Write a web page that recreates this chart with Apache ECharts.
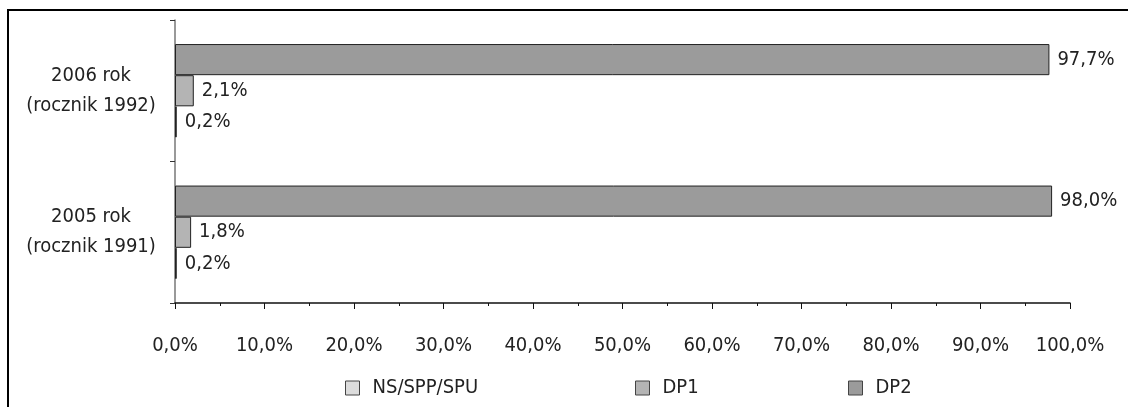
<!DOCTYPE html>
<html>
<head>
<meta charset="utf-8">
<script src="https://cdn.jsdelivr.net/npm/echarts@6/dist/echarts.min.js"></script>
<style>
html,body{margin:0;padding:0;background:#fff;}
#c{width:1128px;height:407px;}
</style>
</head>
<body>
<div id="c"></div>
<script>
var categories = ['2005 rok\n(rocznik 1991)', '2006 rok\n(rocznik 1992)'];
var seriesNames = ['NS/SPP/SPU', 'DP1', 'DP2'];
var nsValues = [0.2, 0.2];
var dp1Values = [1.8, 2.1];
var dp2Values = [98.0, 97.7];
var xTicks = [0, 10, 20, 30, 40, 50, 60, 70, 80, 90, 100];

var FONT = '"Liberation Sans Narrow", "DejaVu Sans Condensed", "Roboto Condensed", "Noto Sans", sans-serif';
var fmt = function (v) { return Number(v).toFixed(1).replace('.', ',') + '%'; };

var chart = echarts.init(document.getElementById('c'));
var colors = ['#dcdcdc', '#b4b4b4', '#9b9b9b'];
var values = [nsValues, dp1Values, dp2Values];

function mkSeries(i) {
  return {
    name: seriesNames[i],
    type: 'bar',
    data: values[i],
    barGap: 0,
    barCategoryGap: '34%',
    itemStyle: { color: colors[i], borderColor: '#222', borderWidth: 1 },
    label: {
      show: true, position: 'right', distance: 8,
      formatter: function (p) { return fmt(p.value); },
      fontFamily: FONT, fontSize: 20, color: '#222'
    },
    emphasis: { disabled: true },
    animation: false
  };
}

function mkLegend(i, left) {
  return {
    data: [seriesNames[i]],
    left: left, top: 373,
    itemWidth: 14, itemHeight: 14,
    icon: 'rect',
    itemStyle: { borderColor: '#444', borderWidth: 1 },
    textStyle: { fontFamily: FONT, fontSize: 20, color: '#222', padding: [0, 0, 0, 8] },
    selectedMode: false
  };
}

chart.setOption({
  animation: false,
  grid: { left: 175, right: 58, top: 20, bottom: 104, containLabel: false },
  legend: [mkLegend(0, 340), mkLegend(1, 630), mkLegend(2, 843)],
  xAxis: {
    type: 'value', min: xTicks[0], max: xTicks[xTicks.length - 1], interval: 10,
    axisLine: { show: true, lineStyle: { color: '#111', width: 1.5 } },
    axisTick: { show: true, length: 6, lineStyle: { color: '#111' } },
    minorTick: { show: true, splitNumber: 2, length: 3, lineStyle: { color: '#111' } },
    splitLine: { show: false },
    axisLabel: {
      formatter: function (v) { return fmt(v); },
      fontFamily: FONT, fontSize: 20, color: '#222', margin: 33
    }
  },
  yAxis: {
    type: 'category', data: categories,
    axisLine: { show: true, lineStyle: { color: '#777', width: 1.5 } },
    axisTick: { show: true, length: 5, lineStyle: { color: '#333' } },
    axisLabel: {
      fontFamily: FONT, fontSize: 20, color: '#222', lineHeight: 30,
      align: 'center', margin: 84
    }
  },
  series: [mkSeries(2), mkSeries(1), mkSeries(0)],
  graphic: [{
    type: 'rect', silent: true, z: 100,
    shape: { x: 8, y: 10, width: 1130, height: 410 },
    style: { fill: 'none', stroke: '#000', lineWidth: 2 }
  }]
});
</script>
</body>
</html>
